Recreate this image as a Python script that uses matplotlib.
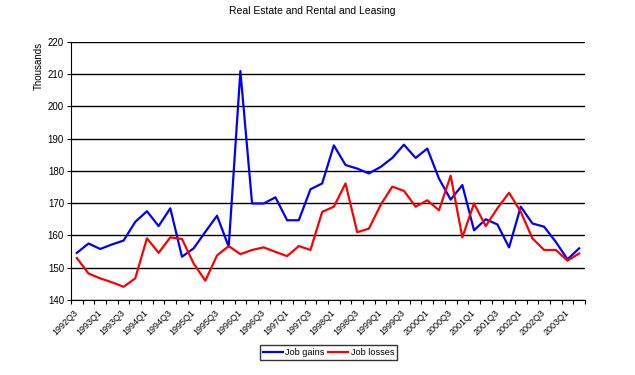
import matplotlib
matplotlib.use("Agg")
import matplotlib.pyplot as plt
import matplotlib.transforms as mtransforms
import numpy as np

plt.rcParams["font.family"] = ["Liberation Sans", "DejaVu Sans"]

# quarters from 1992Q3 to 2003Q2
quarters = []
for yr in range(1992, 2004):
    for q in range(1, 5):
        quarters.append(f"{yr}Q{q}")
quarters = quarters[2:46]

job_gains = [154.6, 157.5, 155.8, 157.2, 158.4, 164.2, 167.5, 162.9, 168.4, 153.4,
             156.0, 161.1, 166.1, 156.5, 210.9, 169.9, 169.9, 171.8, 164.7, 164.7,
             174.3, 176.1, 187.9, 181.8, 180.7, 179.2, 181.2, 184.0, 188.1, 184.0,
             186.9, 177.6, 171.1, 175.6, 161.6, 165.0, 163.4, 156.3, 168.9, 163.7,
             162.7, 158.0, 152.6, 156.0]
job_losses = [153.0, 148.2, 146.7, 145.5, 144.1, 146.7, 159.1, 154.6, 159.4, 158.9,
              151.3, 146.0, 153.8, 156.7, 154.2, 155.5, 156.3, 154.9, 153.6, 156.7,
              155.5, 167.3, 168.9, 176.1, 161.0, 162.1, 169.4, 175.1, 173.8, 168.9,
              170.9, 167.8, 178.5, 159.4, 169.9, 162.9, 168.4, 173.2, 167.3, 159.1,
              155.5, 155.5, 152.2, 154.4]

fig = plt.figure(figsize=(6.35, 3.75), dpi=100)
ax = fig.add_axes([71 / 635, 1 - 300 / 375, 514 / 635, 258.3 / 375])

x = np.arange(len(quarters))
ax.plot(x, job_gains, color="#0000FF", lw=1.6, label="Job gains")
ax.plot(x, job_losses, color="#FF0000", lw=1.6, label="Job losses")

ax.set_xlim(-0.5, len(quarters) - 0.5)
ax.set_ylim(140, 220)
ax.set_yticks(np.arange(140, 221, 10))
ax.yaxis.grid(True, color="black", lw=1)
ax.set_axisbelow(True)
for s in ["top", "right"]:
    ax.spines[s].set_visible(False)
ax.tick_params(axis="y", labelsize=7, length=3, width=0.8, pad=2)

# tick marks between categories, labels on every second category
ax.set_xticks(np.arange(len(quarters) + 1) - 0.5)
ax.set_xticklabels([])
ax.tick_params(axis="x", which="major", length=3, width=0.8)
ax.set_xticks(x[::2], minor=True)
ax.set_xticklabels(quarters[::2], minor=True, rotation=45, ha="right",
                   rotation_mode="anchor", fontsize=6.5)
ax.tick_params(axis="x", which="minor", length=0, pad=6)
shift = mtransforms.ScaledTranslation(-3 / 100, 0, fig.dpi_scale_trans)
for lbl in ax.get_xticklabels(minor=True):
    lbl.set_transform(lbl.get_transform() + shift)

ax.set_ylabel("Thousands", fontsize=7)
ax.yaxis.set_label_coords(-0.053, 0.905)
fig.suptitle("Real Estate and Rental and Leasing", fontsize=7.5, x=0.492, y=0.985)

leg = ax.legend(loc="upper center", bbox_to_anchor=(0.501, -0.166), ncol=2,
                fontsize=6.6, frameon=True, fancybox=False, edgecolor="black",
                handlelength=2.2, handletextpad=0.25, columnspacing=0.4,
                borderpad=0.35, borderaxespad=0.2)
leg.get_frame().set_linewidth(1)

fig.savefig("out.png", dpi=100)
